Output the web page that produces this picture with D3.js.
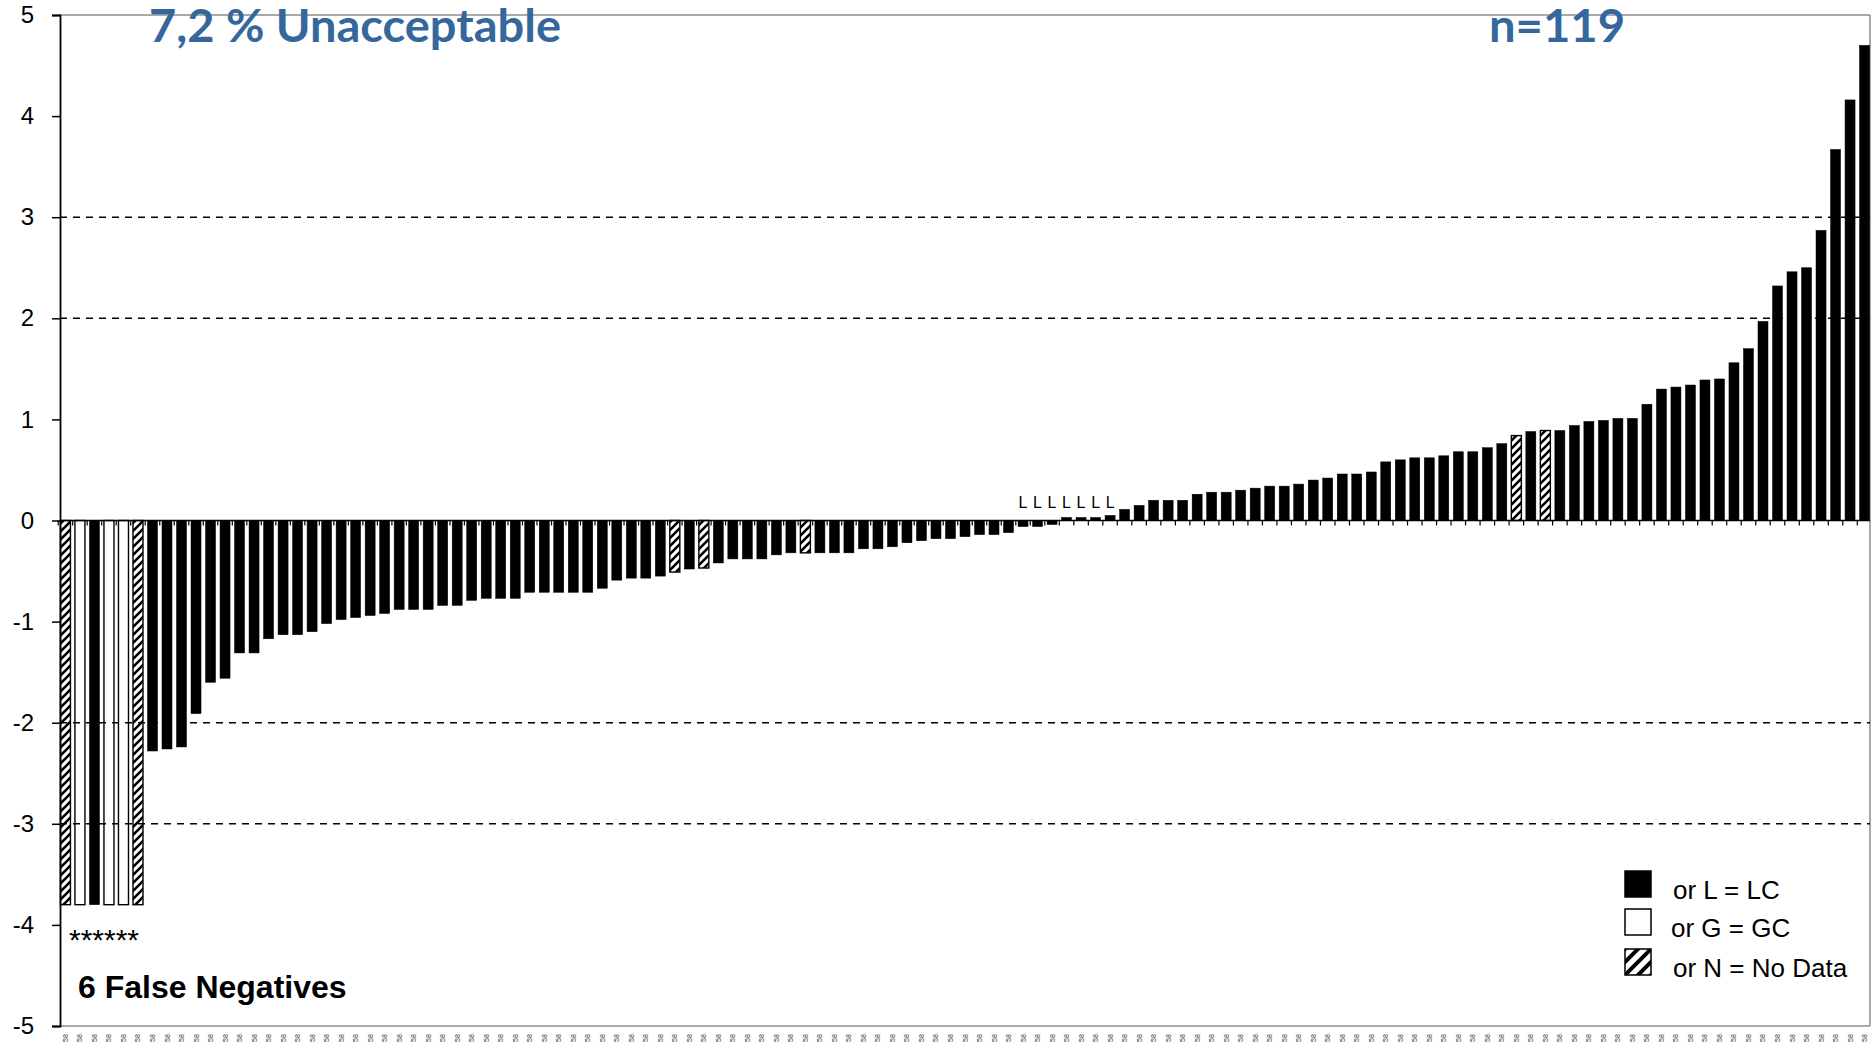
<!DOCTYPE html>
<html>
<head>
<meta charset="utf-8">
<script src="https://cdn.jsdelivr.net/npm/d3@7"></script>
<style>
  html, body { margin: 0; padding: 0; background: #fff; }
  svg { display: block; }
</style>
</head>
<body>
<svg id="chart" width="1874" height="1044"></svg>
<script>
// z-scores per laboratory, sorted ascending (the first six are false negatives, plotted at -3.8)
const zScores = [
  -3.8, -3.8, -3.8, -3.8, -3.8, -3.8, -2.28, -2.26, -2.24, -1.91,
  -1.60, -1.56, -1.31, -1.31, -1.17, -1.13, -1.13, -1.10, -1.02, -0.98,
  -0.96, -0.94, -0.92, -0.88, -0.88, -0.88, -0.84, -0.84, -0.79, -0.77,
  -0.77, -0.77, -0.71, -0.71, -0.71, -0.71, -0.71, -0.67, -0.59, -0.57,
  -0.57, -0.55, -0.51, -0.48, -0.47, -0.42, -0.38, -0.38, -0.38, -0.34,
  -0.32, -0.32, -0.32, -0.32, -0.32, -0.28, -0.28, -0.26, -0.22, -0.20,
  -0.18, -0.18, -0.16, -0.14, -0.14, -0.12, -0.06, -0.06, -0.04, 0.03,
  0.03, 0.03, 0.05, 0.11, 0.15, 0.20, 0.20, 0.20, 0.26, 0.28,
  0.28, 0.30, 0.32, 0.34, 0.34, 0.36, 0.40, 0.42, 0.46, 0.46,
  0.48, 0.58, 0.60, 0.62, 0.62, 0.64, 0.68, 0.68, 0.72, 0.76,
  0.84, 0.88, 0.89, 0.89, 0.94, 0.98, 0.99, 1.01, 1.01, 1.15,
  1.30, 1.32, 1.34, 1.39, 1.40, 1.56, 1.70, 1.97, 2.32, 2.46,
  2.50, 2.87, 3.67, 4.16, 4.70
];

// Method used by each laboratory: L = LC, G = GC, N = no data
const methods = [
  "N","G","L","G","G","N","L","L","L","L","L","L","L","L","L","L","L","L","L","L","L","L","L","L","L",
  "L","L","L","L","L","L","L","L","L","L","L","L","L","L","L","L","L","N","L","N","L","L","L","L","L",
  "L","N","L","L","L","L","L","L","L","L","L","L","L","L","L","L","L","L","L","L","L","L","L","L","L",
  "L","L","L","L","L","L","L","L","L","L","L","L","L","L","L","L","L","L","L","L","L","L","L","L","L",
  "N","L","N","L","L","L","L","L","L","L","L","L","L","L","L","L","L","L","L","L","L","L","L","L","L"
];

// Ranks whose (near-zero) bars carry a method letter above them
const taggedRanks = [67, 68, 69, 70, 71, 72, 73];
const tagText = "L";

const yTicks = [5, 4, 3, 2, 1, 0, -1, -2, -3, -4, -5];
const limitLines = [3, 2, -2, -3];
const categoryText = "58";

const legendItems = [
  { method: "L", text: "or L = LC" },
  { method: "G", text: "or G = GC" },
  { method: "N", text: "or N = No Data" }
];

const titleText = "7,2 % Unacceptable";
const countText = "n=119";
const noteText = "6 False Negatives";
const falseNegMarks = "******";

// ---------- layout ----------
const svg = d3.select("#chart");
const plotLeft = 60, plotRight = 1870, plotTop = 15, plotBottom = 1026;
const ranks = d3.range(1, zScores.length + 1);
const data = ranks.map((r, i) => ({ rank: r, z: zScores[i], method: methods[i] }));

const x = d3.scaleBand().domain(ranks).range([plotLeft, plotRight]).paddingInner(0.31).paddingOuter(0.03);
const y = d3.scaleLinear().domain([-5, 5]).range([plotBottom, plotTop]);

const defs = svg.append("defs");
// diagonal hatch for the "no data" bars
defs.append("pattern")
  .attr("id", "hatch").attr("patternUnits", "userSpaceOnUse")
  .attr("width", 8).attr("height", 8)
  .append("path")
  .attr("d", "M-2,2 l4,-4 M0,8 l8,-8 M6,10 l4,-4")
  .attr("stroke", "#000").attr("stroke-width", 2.6);

// ---------- frame ----------
const frame = svg.append("g").attr("stroke", "#8c8c8c").attr("stroke-width", 1.5);
frame.append("line").attr("x1", plotLeft).attr("x2", plotRight).attr("y1", plotTop).attr("y2", plotTop);
frame.append("line").attr("x1", plotRight).attr("x2", plotRight).attr("y1", plotTop).attr("y2", plotBottom);
frame.append("line").attr("x1", plotLeft).attr("x2", plotRight).attr("y1", plotBottom).attr("y2", plotBottom);

// ---------- limit lines ----------
svg.append("g").selectAll("line").data(limitLines).join("line")
  .attr("x1", plotLeft).attr("x2", plotRight)
  .attr("y1", d => y(d)).attr("y2", d => y(d))
  .attr("stroke", "#000").attr("stroke-width", 1.4)
  .attr("stroke-dasharray", "7,6");

// ---------- bars ----------
const fillFor = m => m === "L" ? "#000" : (m === "N" ? "url(#hatch)" : "none");
svg.append("g").selectAll("rect").data(data).join("rect")
  .attr("x", d => x(d.rank))
  .attr("width", x.bandwidth())
  .attr("y", d => y(Math.max(0, d.z)))
  .attr("height", d => Math.abs(y(d.z) - y(0)))
  .attr("fill", d => fillFor(d.method))
  .attr("stroke", "#000")
  .attr("stroke-width", d => d.method === "L" ? 0.5 : 1.4);

// ---------- zero axis with category ticks ----------
svg.append("line")
  .attr("x1", plotLeft).attr("x2", plotRight).attr("y1", y(0)).attr("y2", y(0))
  .attr("stroke", "#000").attr("stroke-width", 1.6);
const gap = x.step() - x.bandwidth();
svg.append("g").selectAll("line").data(ranks).join("line")
  .attr("x1", d => x(d) - gap / 2).attr("x2", d => x(d) - gap / 2)
  .attr("y1", y(0)).attr("y2", y(0) + 5)
  .attr("stroke", "#000").attr("stroke-width", 1.2);

// ---------- category labels along the bottom ----------
svg.append("g").selectAll("text").data(ranks).join("text")
  .attr("transform", d => `translate(${x(d) + x.bandwidth() / 2 + 2.5},1042) rotate(-90)`)
  .attr("font-family", "Liberation Sans, Arial, sans-serif")
  .attr("font-size", 7).attr("fill", "#333")
  .text(categoryText);

// ---------- y axis ----------
const yAxis = svg.append("g")
  .attr("transform", `translate(${plotLeft},0)`)
  .call(d3.axisLeft(y).tickValues(yTicks).tickSize(8).tickPadding(18).tickFormat(d3.format("d")));
yAxis.select(".domain").attr("stroke", "#000").attr("stroke-width", 1.8);
yAxis.selectAll(".tick line").attr("stroke", "#000").attr("stroke-width", 1.5);
yAxis.selectAll(".tick text")
  .attr("font-family", "Liberation Sans, Arial, sans-serif")
  .attr("font-size", 24).attr("fill", "#000")
  .text(d => d < 0 ? "-" + Math.abs(d) : d);

// ---------- method letters above near-zero bars ----------
svg.append("g").selectAll("text").data(taggedRanks).join("text")
  .attr("x", d => x(d) + x.bandwidth() / 2)
  .attr("y", y(0) - 13)
  .attr("text-anchor", "middle")
  .attr("font-family", "Liberation Sans, Arial, sans-serif")
  .attr("font-size", 16).attr("fill", "#000")
  .text(tagText);

// ---------- false-negative markers and note ----------
svg.append("text")
  .attr("x", 69).attr("y", 950)
  .attr("font-family", "Liberation Sans, Arial, sans-serif")
  .attr("font-size", 30).attr("fill", "#000")
  .text(falseNegMarks);

svg.append("text")
  .attr("x", 78).attr("y", 998)
  .attr("font-family", "Liberation Sans, Arial, sans-serif")
  .attr("font-weight", "bold").attr("font-size", 32).attr("fill", "#000")
  .text(noteText);

// ---------- headline texts ----------
const blue = "#36679c";
svg.append("text")
  .attr("x", 149).attr("y", 42)
  .attr("font-family", "Lato, 'Noto Sans', sans-serif")
  .attr("font-weight", "bold").attr("font-size", 46).attr("fill", blue)
  .attr("textLength", 412).attr("lengthAdjust", "spacingAndGlyphs")
  .text(titleText);
svg.append("text")
  .attr("x", 1489).attr("y", 42)
  .attr("font-family", "Lato, 'Noto Sans', sans-serif")
  .attr("font-weight", "bold").attr("font-size", 46).attr("fill", blue)
  .attr("textLength", 136).attr("lengthAdjust", "spacingAndGlyphs")
  .text(countText);

// ---------- legend ----------
const legendX = 1625, legendY = [871, 909, 949], swatch = 26;
defs.append("pattern")
  .attr("id", "hatchLegend").attr("patternUnits", "userSpaceOnUse")
  .attr("x", legendX).attr("y", legendY[2])
  .attr("width", 13).attr("height", 13)
  .append("path")
  .attr("d", "M-3,3 l6,-6 M0,13 l13,-13 M10,16 l6,-6")
  .attr("stroke", "#000").attr("stroke-width", 4);

const legend = svg.append("g");
legendItems.forEach((item, i) => {
  legend.append("rect")
    .attr("x", legendX).attr("y", legendY[i])
    .attr("width", swatch).attr("height", swatch)
    .attr("fill", item.method === "L" ? "#000" : (item.method === "N" ? "url(#hatchLegend)" : "#fff"))
    .attr("stroke", "#000").attr("stroke-width", 1.5);
  legend.append("text")
    .attr("x", legendX + 48 + (i === 1 ? -2 : 0)).attr("y", legendY[i] + 28)
    .attr("font-family", "Liberation Sans, Arial, sans-serif")
    .attr("font-size", 26).attr("fill", "#000")
    .text(item.text);
});
</script>
</body>
</html>
